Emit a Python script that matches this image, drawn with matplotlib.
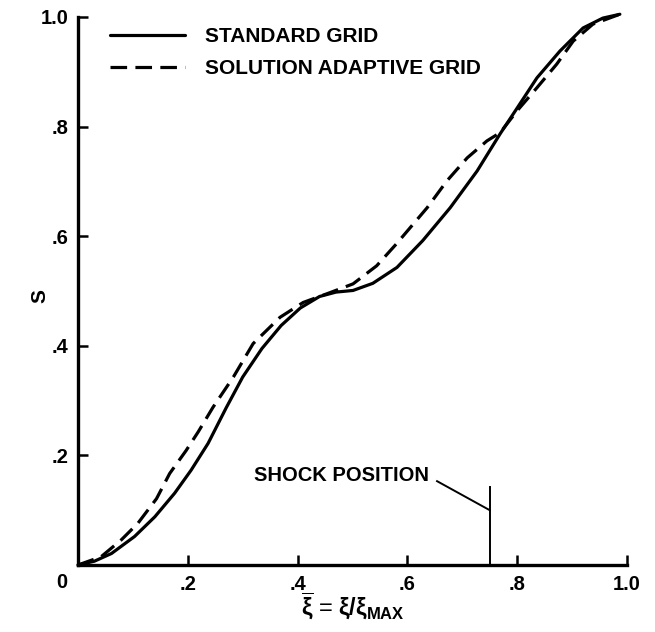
import matplotlib
matplotlib.use("Agg")
import matplotlib.pyplot as plt

# ---- data ----
std_x = [0, 0.03, 0.061, 0.103, 0.140, 0.176, 0.206, 0.237, 0.270, 0.300, 0.335,
         0.370, 0.405, 0.440, 0.470, 0.501, 0.537, 0.581, 0.628, 0.678, 0.727,
         0.769, 0.800, 0.836, 0.878, 0.920, 0.956, 0.987]
std_y = [0, 0.007, 0.021, 0.052, 0.088, 0.131, 0.173, 0.222, 0.287, 0.343, 0.395,
         0.437, 0.469, 0.490, 0.498, 0.501, 0.514, 0.543, 0.592, 0.652, 0.719,
         0.787, 0.834, 0.889, 0.938, 0.980, 0.998, 1.005]

ada_x = [0, 0.042, 0.079, 0.109, 0.143, 0.167, 0.197, 0.219, 0.246, 0.283, 0.319,
         0.368, 0.410, 0.459, 0.501, 0.544, 0.580, 0.636, 0.672, 0.709, 0.745,
         0.769, 0.800, 0.836, 0.872, 0.902, 0.938, 0.987]
ada_y = [0, 0.015, 0.046, 0.076, 0.121, 0.167, 0.209, 0.243, 0.288, 0.343, 0.404,
         0.452, 0.479, 0.497, 0.513, 0.546, 0.586, 0.652, 0.701, 0.743, 0.774,
         0.789, 0.829, 0.871, 0.914, 0.956, 0.987, 1.005]

x_ticks = [0.2, 0.4, 0.6, 0.8, 1.0]
x_ticklabels = [".2", ".4", ".6", ".8", "1.0"]
y_ticks = [0.2, 0.4, 0.6, 0.8, 1.0]
y_ticklabels = [".2", ".4", ".6", ".8", "1.0"]

series_labels = ["STANDARD GRID", "SOLUTION ADAPTIVE GRID"]
shock_x = 0.75
shock_top = 0.142
shock_leader = [(0.654, 0.153), (0.75, 0.100)]
shock_label = "SHOCK POSITION"

# ---- styling ----
plt.rcParams['font.family'] = ['Liberation Sans', 'DejaVu Sans']
plt.rcParams['font.weight'] = 'bold'
plt.rcParams['mathtext.fontset'] = 'custom'
plt.rcParams['mathtext.rm'] = 'Liberation Sans:bold'
plt.rcParams['mathtext.it'] = 'Liberation Sans:bold'
plt.rcParams['mathtext.bf'] = 'Liberation Sans:bold'

fig = plt.figure(figsize=(6.55, 6.32), dpi=100)
ax = fig.add_axes([78/655, 67/632, 549/655, 548/632])

lw = 2.3
ax.plot(std_x, std_y, color='black', lw=lw, solid_capstyle='round',
        solid_joinstyle='round', clip_on=False)
ax.plot(ada_x, ada_y, color='black', lw=lw, dashes=(5.2, 2.6), clip_on=False)

ax.set_xlim(0, 1.0)
ax.set_ylim(0, 1.0)

for s in ['top', 'right']:
    ax.spines[s].set_visible(False)
for s in ['left', 'bottom']:
    ax.spines[s].set_linewidth(2.4)

ax.set_xticks(x_ticks)
ax.set_xticklabels(x_ticklabels)
ax.set_yticks(y_ticks)
ax.set_yticklabels(y_ticklabels)
ax.tick_params(direction='in', length=7, width=1.8, labelsize=14.5, pad=7)
for lab in ax.get_xticklabels() + ax.get_yticklabels():
    lab.set_fontweight('bold')

# origin label
ax.text(-0.029, -0.014, "0", ha='center', va='top', fontsize=14.5,
        fontweight='bold', transform=ax.transAxes, clip_on=False)

ax.set_ylabel("S", fontsize=15, fontweight='bold')
ax.yaxis.set_label_coords(-0.052, 0.49)
ax.set_xlabel(r"$\overline{\xi}$ = $\xi/\xi_{\mathrm{MAX}}$", fontsize=17)
ax.xaxis.set_label_coords(0.5, -0.047)

leg = ax.legend([ax.lines[0], ax.lines[1]], series_labels, loc='upper left',
                bbox_to_anchor=(0.058, 0.981), frameon=False,
                handlelength=3.6, handletextpad=0.95, labelspacing=0.6,
                borderpad=0, borderaxespad=0,
                prop={'weight': 'bold', 'size': 15})

# shock position marker
ax.plot([shock_x, shock_x], [0, shock_top], color='black', lw=1.4)
ax.plot([p[0] for p in shock_leader], [p[1] for p in shock_leader],
        color='black', lw=1.4)
ax.text(0.640, 0.164, shock_label, ha='right', va='center', fontsize=14.5,
        fontweight='bold')

fig.savefig("out.png", dpi=100)
